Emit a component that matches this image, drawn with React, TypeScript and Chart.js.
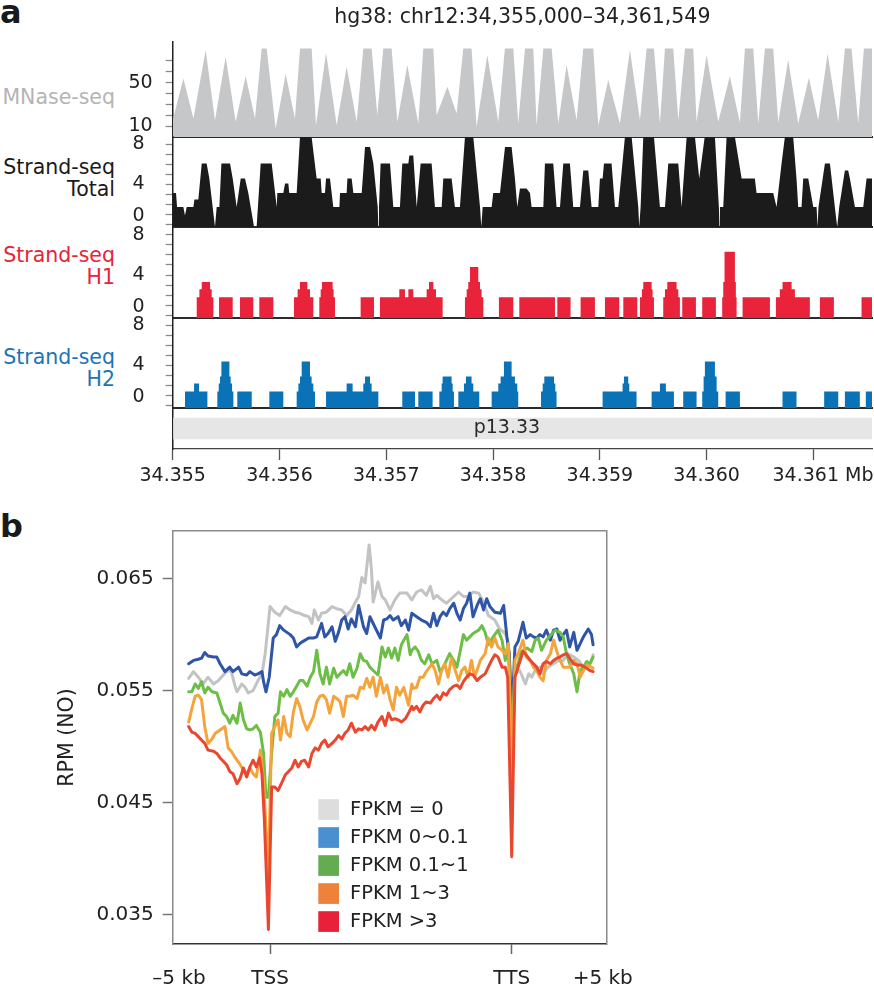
import React, { useEffect, useRef } from 'react';
import { Chart, registerables } from 'chart.js';

Chart.register(...registerables);
const FONT = '"DejaVu Sans", "Noto Sans", sans-serif';
Chart.defaults.font.family = FONT;
Chart.defaults.font.size = 19;
Chart.defaults.color = '#222222';

// ================= Panel a data =================
const REGION_TITLE = 'hg38: chr12:34,355,000–34,361,549';
const WINDOW_KB = 6.549; // window length in kb from 34,355,000
const X_TICK_POS = [0, 1, 2, 3, 4, 5, 6, 6.09];
const X_TICK_LABELS = ['34.355', '34.356', '34.357', '34.358', '34.359', '34.360', '', '34.361 Mb'];
const X_TICK_MARKED = [true, true, true, true, true, true, true, false];

const MNASE_TICKS = [10, 20, 30, 40, 50, 60, 70];
const MNASE_TICK_LABELS = ['10', '', '', '', '50', '', ''];
const STRAND_TICKS = [0, 1, 2, 3, 4, 5, 6, 7, 8];
const STRAND_LABEL_POS = [0.8, 4, 8];
const STRAND_LABELS = ['0', '4', '8'];

const TRACK_NAMES = [['MNase-seq'], ['Strand-seq', 'Total'], ['Strand-seq', 'H1'], ['Strand-seq', 'H2']];

const BAND_NAME = 'p13.33';
const BAND_START = 0;
const BAND_END = 6.549;
const BAND_LABEL_AT = 3.13;

// [kb from 34,355,000, coverage]
const MNASE: [number, number][] = [
  [0.000, 15.4], [0.100, 53.8], [0.194, 16.9], [0.309, 79.9], [0.396, 15.4], [0.496, 73.7], [0.590, 13.9],
  [0.683, 55.9], [0.771, 16.9], [0.833, 81.4], [0.880, 81.4], [0.964, 7.8], [1.058, 57.8], [1.145, 16.9],
  [1.192, 81.4], [1.301, 81.4], [1.342, 10.8], [1.436, 77.4], [1.536, 10.8], [1.629, 64.5], [1.723, 13.9],
  [1.785, 81.4], [1.863, 81.4], [1.916, 20.0], [1.972, 81.4], [2.050, 81.4], [2.104, 13.9], [2.197, 66.1],
  [2.300, 12.4], [2.347, 81.4], [2.441, 81.4], [2.472, 20.0], [2.572, 46.1], [2.659, 21.6], [2.721, 81.4],
  [2.799, 81.4], [2.846, 9.3], [2.946, 75.3], [3.049, 13.9], [3.111, 81.4], [3.190, 81.4], [3.236, 12.4],
  [3.299, 81.4], [3.377, 81.4], [3.408, 10.8], [3.471, 81.4], [3.549, 81.4], [3.611, 12.4], [3.689, 66.1],
  [3.783, 15.4], [3.845, 81.4], [3.939, 81.4], [3.986, 10.8], [4.079, 52.3], [4.188, 12.4], [4.282, 79.9],
  [4.376, 15.4], [4.438, 81.4], [4.507, 81.4], [4.563, 12.4], [4.610, 81.4], [4.688, 81.4], [4.735, 15.4],
  [4.797, 81.4], [4.875, 81.4], [4.906, 13.9], [5.000, 75.3], [5.109, 13.9], [5.218, 55.9], [5.312, 13.0],
  [5.359, 81.4], [5.437, 81.4], [5.484, 12.4], [5.546, 81.4], [5.624, 81.4], [5.671, 13.0], [5.764, 71.3],
  [5.858, 12.4], [5.958, 54.4], [6.045, 15.4], [6.133, 76.8], [6.233, 13.9], [6.295, 81.4], [6.357, 81.4],
  [6.420, 12.4], [6.473, 81.4], [6.549, 81.4],
];

const TOTAL: [number, number][] = [
  [0.000, 3.15], [0.031, 3.15], [0.041, 1.75], [0.100, 1.75], [0.115, 0.9], [0.131, 1.75], [0.194, 1.75],
  [0.203, 2.5], [0.240, 2.5], [0.272, 6.1], [0.318, 6.1], [0.343, 4.6], [0.396, -0.25], [0.412, 1.75],
  [0.437, 1.75], [0.456, 6.1], [0.537, 6.1], [0.562, 4.6], [0.599, 1.75], [0.637, 4.6], [0.677, 4.6],
  [0.708, 3.15], [0.762, -0.25], [0.786, -0.25], [0.824, 6.1], [0.927, 6.1], [0.974, 1.75], [0.980, 3.15],
  [1.036, 3.15], [1.052, 4.1], [1.083, 4.1], [1.092, 3.15], [1.161, 3.15], [1.192, 8.75], [1.301, 8.75],
  [1.348, 4.6], [1.386, 4.6], [1.395, 3.15], [1.426, 3.15], [1.436, 4.6], [1.473, 4.6], [1.504, 1.75],
  [1.561, 1.75], [1.567, 3.15], [1.629, 3.15], [1.636, 4.6], [1.676, 4.6], [1.692, 3.15], [1.770, 3.15],
  [1.801, 7.75], [1.848, 7.75], [1.879, 6.1], [1.920, 1.75], [1.926, -0.25], [1.932, 1.75], [1.947, 6.1],
  [2.035, 6.1], [2.066, 1.75], [2.128, 1.75], [2.150, 6.1], [2.207, 6.1], [2.216, 6.9], [2.253, 6.9],
  [2.285, 1.75], [2.322, 6.1], [2.425, 6.1], [2.456, 1.75], [2.519, 1.75], [2.534, 4.6], [2.612, 4.6],
  [2.643, 1.75], [2.690, 1.75], [2.737, 8.75], [2.815, 8.75], [2.878, 1.75], [2.890, -0.25], [2.903, 1.75],
  [2.987, 1.75], [3.002, 3.15], [3.065, 3.15], [3.112, 7.75], [3.174, 7.75], [3.205, 4.6], [3.227, 1.75],
  [3.252, 3.6], [3.314, 3.6], [3.346, 3.15], [3.361, 1.75], [3.471, 1.75], [3.486, 6.1], [3.564, 6.1],
  [3.595, 1.75], [3.627, 1.75], [3.658, 6.1], [3.720, 6.1], [3.751, 1.75], [3.814, 1.75], [3.845, 5.4],
  [3.892, 5.4], [3.923, 1.75], [3.986, 1.75], [4.001, 4.6], [4.026, 4.6], [4.039, 6.1], [4.110, 6.1],
  [4.142, 1.75], [4.173, 1.75], [4.235, 8.75], [4.298, 8.75], [4.360, 1.75], [4.369, -0.25], [4.382, 1.75],
  [4.407, 8.75], [4.507, 8.75], [4.563, 1.75], [4.610, 1.75], [4.641, 6.1], [4.735, 6.1], [4.766, 1.75],
  [4.813, 8.75], [4.891, 8.75], [4.931, 4.6], [4.982, 8.75], [5.078, 8.75], [5.115, 1.75], [5.120, -0.25],
  [5.125, 1.75], [5.156, 1.75], [5.187, 8.75], [5.265, 8.75], [5.328, 4.6], [5.452, 4.6], [5.468, 3.15],
  [5.624, 3.15], [5.655, 1.75], [5.702, 6.1], [5.733, 8.75], [5.811, 8.75], [5.842, 4.6], [5.858, 1.75],
  [5.889, 1.75], [5.905, 4.6], [5.952, 4.6], [5.999, 1.75], [6.030, 1.75], [6.039, -0.25], [6.048, 1.75],
  [6.108, 6.1], [6.155, 6.1], [6.201, 1.75], [6.223, -0.25], [6.242, 1.75], [6.295, 5.4], [6.326, 5.4],
  [6.342, 4.6], [6.389, 1.75], [6.467, 1.75], [6.498, 4.6], [6.549, 4.6],
];

// step signal: value holds from position until next position
const H1_SIGNAL: [number, number][] = [
  [0, -0.25], [0.225, 1.8], [0.250, 2.6], [0.272, 3.3], [0.350, 2.6], [0.365, 1.8], [0.381, -0.25],
  [0.434, 1.8], [0.562, -0.25], [0.630, 1.8], [0.755, -0.25], [0.811, 1.8], [0.943, -0.25], [1.136, 1.8],
  [1.170, 2.6], [1.192, 3.3], [1.261, 2.6], [1.286, 1.8], [1.317, -0.25], [1.373, 1.8], [1.386, 2.6],
  [1.398, 3.3], [1.498, 2.6], [1.507, 1.8], [1.520, -0.25], [1.760, 1.8], [1.885, -0.25], [1.941, 1.8],
  [2.122, 2.6], [2.175, 1.8], [2.207, 2.6], [2.253, 1.8], [2.378, 2.6], [2.400, 3.3], [2.441, 2.6],
  [2.466, 1.8], [2.528, -0.25], [2.737, 1.8], [2.753, 2.6], [2.768, 3.3], [2.784, 4.8], [2.862, 3.3],
  [2.878, 2.6], [2.893, 1.8], [2.909, -0.25], [3.055, 1.8], [3.190, -0.25], [3.246, 1.8], [3.580, -0.25],
  [3.602, 1.8], [3.726, -0.25], [3.820, 1.8], [3.954, -0.25], [4.048, 1.8], [4.182, -0.25], [4.220, 1.8],
  [4.351, -0.25], [4.376, 1.8], [4.394, 2.6], [4.407, 3.3], [4.485, 2.6], [4.494, 1.8], [4.507, -0.25],
  [4.594, 1.8], [4.610, 2.6], [4.632, 3.3], [4.719, 2.6], [4.735, 1.8], [4.750, -0.25], [4.772, 1.8],
  [4.900, -0.25], [4.959, 1.8], [5.087, -0.25], [5.146, 1.8], [5.156, 3.3], [5.168, 6.3], [5.265, 3.3],
  [5.274, 1.8], [5.281, -0.25], [5.337, 1.8], [5.593, -0.25], [5.649, 1.8], [5.686, 2.6], [5.711, 3.3],
  [5.796, 2.6], [5.827, 1.8], [5.967, -0.25], [6.061, 1.8], [6.192, -0.25], [6.451, 1.8], [6.549, 1.8],
];

const H2_SIGNAL: [number, number][] = [
  [0, -0.25], [0.115, 1.4], [0.200, 2.2], [0.247, 1.4], [0.325, -0.25], [0.418, 1.4], [0.431, 2.2],
  [0.443, 2.9], [0.456, 4.4], [0.531, 2.9], [0.543, 2.2], [0.556, 1.4], [0.568, -0.25], [0.605, 1.4],
  [0.740, -0.25], [0.905, 1.4], [1.036, -0.25], [1.161, 1.4], [1.177, 2.2], [1.192, 2.9], [1.208, 4.4],
  [1.286, 2.9], [1.301, 2.2], [1.317, 1.4], [1.333, -0.25], [1.436, 1.4], [1.629, 2.2], [1.685, 1.4],
  [1.785, 2.2], [1.801, 2.9], [1.848, 2.2], [1.863, 1.4], [1.926, -0.25], [2.150, 1.4], [2.269, -0.25],
  [2.300, 1.4], [2.434, -0.25], [2.497, 1.4], [2.519, 2.2], [2.528, 2.9], [2.612, 2.2], [2.622, 1.4],
  [2.634, -0.25], [2.675, 1.4], [2.728, 2.2], [2.746, 2.9], [2.799, 2.2], [2.815, 1.4], [2.871, -0.25],
  [2.987, 1.4], [3.049, 2.2], [3.071, 2.9], [3.102, 4.4], [3.174, 2.9], [3.205, 2.2], [3.227, 1.4],
  [3.236, -0.25], [3.449, 1.4], [3.465, 2.2], [3.480, 2.9], [3.571, 2.2], [3.583, 1.4], [3.595, -0.25],
  [4.026, 1.4], [4.213, 2.2], [4.226, 2.9], [4.266, 2.2], [4.276, 1.4], [4.344, -0.25], [4.485, 1.4],
  [4.563, 2.2], [4.619, 1.4], [4.694, -0.25], [4.781, 1.4], [4.906, -0.25], [4.959, 1.4], [4.972, 2.9],
  [4.984, 4.4], [5.078, 2.9], [5.094, 1.4], [5.109, -0.25], [5.178, 1.4], [5.312, -0.25], [5.711, 1.4],
  [5.842, -0.25], [6.101, 1.4], [6.233, -0.25], [6.295, 1.4], [6.435, -0.25], [6.491, 1.4], [6.549, 1.4],
];

// ================= Panel b data =================
// x: relative position (-100 = -5 kb, 0 = TSS, 300 = TTS, 400 = +5 kb); y: RPM (NO)
const B_X_TICK_POS = [-113, 0, 300, 413];
const B_X_TICK_LABELS = ['–5 kb', 'TSS', 'TTS', '+5 kb'];
const B_X_TICK_MARKED = [false, true, true, false];
const B_Y_TICKS = [0.035, 0.045, 0.055, 0.065];

const SERIES_LABELS = ['FPKM = 0', 'FPKM 0~0.1', 'FPKM 0.1~1', 'FPKM 1~3', 'FPKM >3'];
const LINE_COLORS = ['#c2c3c4', '#2f56a6', '#6cbe47', '#f4a43b', '#e9472f'];
const SWATCH_COLORS = ['#dddddd', '#4a8fcf', '#64ac52', '#ee823a', '#e8203a'];

const FPKM_0: [number, number][] = [
  [-101, 0.0561], [-95, 0.0567], [-89, 0.0562], [-83, 0.0556], [-77, 0.0562], [-70, 0.0556], [-64, 0.0559],
  [-58, 0.0564], [-52, 0.0568], [-48, 0.0567], [-43, 0.0553], [-41, 0.0549], [-35, 0.0556], [-31, 0.0553],
  [-27, 0.0548], [-21, 0.0550], [-15, 0.0559], [-10, 0.0565], [-6, 0.0583], [-3, 0.0604], [0, 0.0625],
  [6, 0.0620], [12, 0.0617], [19, 0.0625], [25, 0.0622], [31, 0.0620], [37, 0.0619], [43, 0.0617],
  [48, 0.0616], [52, 0.0610], [55, 0.0622], [60, 0.0613], [64, 0.0619], [70, 0.0620], [77, 0.0625],
  [83, 0.0623], [89, 0.0622], [95, 0.0617], [101, 0.0622], [106, 0.0629], [110, 0.0634], [114, 0.0651],
  [118, 0.0646], [123, 0.0680], [126, 0.0657], [128, 0.0629], [134, 0.0647], [139, 0.0634], [143, 0.0631],
  [149, 0.0622], [155, 0.0631], [161, 0.0637], [170, 0.0637], [176, 0.0631], [182, 0.0638], [188, 0.0640],
  [194, 0.0635], [199, 0.0643], [203, 0.0632], [207, 0.0635], [213, 0.0631], [219, 0.0628], [225, 0.0632],
  [234, 0.0638], [240, 0.0634], [246, 0.0634], [252, 0.0638], [259, 0.0637], [265, 0.0629], [271, 0.0617],
  [279, 0.0613], [285, 0.0605], [292, 0.0601], [295, 0.0595], [300, 0.0548], [304, 0.0565], [310, 0.0568],
  [317, 0.0556], [321, 0.0565], [325, 0.0562], [329, 0.0568], [335, 0.0571], [339, 0.0565], [345, 0.0571],
  [352, 0.0574], [358, 0.0577], [364, 0.0577], [370, 0.0583], [377, 0.0580], [383, 0.0577], [389, 0.0571],
  [395, 0.0571], [399, 0.0577], [401, 0.0582],
];

const FPKM_0_01: [number, number][] = [
  [-101, 0.0574], [-95, 0.0577], [-89, 0.0578], [-85, 0.0579], [-81, 0.0584], [-77, 0.0581], [-70, 0.0580],
  [-66, 0.0580], [-62, 0.0574], [-56, 0.0567], [-50, 0.0571], [-46, 0.0567], [-39, 0.0571], [-35, 0.0565],
  [-29, 0.0564], [-25, 0.0567], [-19, 0.0564], [-15, 0.0565], [-10, 0.0567], [-8, 0.0558], [-5, 0.0549],
  [-1, 0.0562], [4, 0.0597], [8, 0.0600], [12, 0.0608], [17, 0.0604], [21, 0.0602], [25, 0.0600],
  [29, 0.0597], [33, 0.0589], [37, 0.0592], [41, 0.0594], [48, 0.0597], [54, 0.0597], [58, 0.0598],
  [64, 0.0610], [68, 0.0598], [72, 0.0601], [77, 0.0607], [81, 0.0594], [85, 0.0602], [89, 0.0613],
  [93, 0.0616], [97, 0.0605], [101, 0.0614], [106, 0.0607], [110, 0.0626], [116, 0.0607], [120, 0.0601],
  [124, 0.0616], [130, 0.0607], [137, 0.0597], [141, 0.0613], [145, 0.0614], [149, 0.0617], [153, 0.0613],
  [159, 0.0616], [163, 0.0608], [168, 0.0613], [172, 0.0604], [176, 0.0619], [182, 0.0616], [188, 0.0613],
  [194, 0.0611], [199, 0.0607], [203, 0.0619], [207, 0.0608], [211, 0.0616], [215, 0.0620], [219, 0.0617],
  [223, 0.0623], [228, 0.0628], [232, 0.0619], [236, 0.0613], [240, 0.0623], [244, 0.0628], [248, 0.0637],
  [252, 0.0616], [257, 0.0626], [261, 0.0632], [265, 0.0622], [269, 0.0632], [273, 0.0625], [279, 0.0620],
  [286, 0.0619], [290, 0.0626], [294, 0.0598], [297, 0.0583], [300, 0.0525], [304, 0.0589], [308, 0.0594],
  [314, 0.0611], [318, 0.0597], [323, 0.0600], [327, 0.0598], [331, 0.0597], [335, 0.0600], [339, 0.0598],
  [343, 0.0604], [348, 0.0595], [352, 0.0604], [356, 0.0605], [360, 0.0595], [364, 0.0600], [368, 0.0604],
  [372, 0.0589], [377, 0.0602], [381, 0.0586], [385, 0.0592], [389, 0.0598], [395, 0.0605], [399, 0.0600],
  [401, 0.0591],
];

const FPKM_01_1: [number, number][] = [
  [-101, 0.0549], [-97, 0.0549], [-93, 0.0556], [-89, 0.0552], [-85, 0.0558], [-81, 0.0548], [-77, 0.0553],
  [-72, 0.0549], [-66, 0.0548], [-62, 0.0539], [-58, 0.0530], [-54, 0.0527], [-50, 0.0521], [-46, 0.0528],
  [-41, 0.0521], [-37, 0.0539], [-33, 0.0524], [-29, 0.0516], [-25, 0.0515], [-21, 0.0516], [-17, 0.0519],
  [-12, 0.0513], [-8, 0.0494], [-5, 0.0455], [-2, 0.0455], [2, 0.0494], [6, 0.0527], [10, 0.0530],
  [13, 0.0549], [17, 0.0545], [21, 0.0551], [25, 0.0545], [29, 0.0549], [33, 0.0554], [37, 0.0559],
  [41, 0.0559], [46, 0.0554], [50, 0.0562], [54, 0.0567], [58, 0.0586], [62, 0.0565], [66, 0.0556],
  [70, 0.0571], [74, 0.0556], [79, 0.0570], [83, 0.0562], [87, 0.0565], [91, 0.0568], [95, 0.0564],
  [99, 0.0574], [103, 0.0562], [108, 0.0570], [112, 0.0583], [116, 0.0577], [120, 0.0576], [124, 0.0571],
  [128, 0.0568], [134, 0.0564], [139, 0.0589], [143, 0.0580], [147, 0.0588], [151, 0.0579], [155, 0.0588],
  [159, 0.0577], [163, 0.0591], [170, 0.0600], [174, 0.0582], [176, 0.0586], [180, 0.0589], [184, 0.0585],
  [188, 0.0577], [192, 0.0574], [197, 0.0582], [201, 0.0574], [207, 0.0577], [211, 0.0567], [215, 0.0571],
  [219, 0.0577], [223, 0.0583], [228, 0.0577], [232, 0.0571], [236, 0.0585], [240, 0.0600], [244, 0.0595],
  [248, 0.0598], [252, 0.0601], [259, 0.0604], [263, 0.0608], [267, 0.0602], [271, 0.0591], [277, 0.0598],
  [283, 0.0604], [288, 0.0595], [292, 0.0577], [296, 0.0589], [300, 0.0500], [304, 0.0568], [308, 0.0574],
  [312, 0.0585], [319, 0.0588], [325, 0.0585], [329, 0.0595], [333, 0.0597], [337, 0.0586], [343, 0.0595],
  [350, 0.0601], [354, 0.0604], [360, 0.0602], [364, 0.0598], [368, 0.0583], [372, 0.0574], [377, 0.0565],
  [381, 0.0549], [385, 0.0568], [389, 0.0571], [393, 0.0576], [397, 0.0574], [401, 0.0580],
];

const FPKM_1_3: [number, number][] = [
  [-101, 0.0522], [-97, 0.0534], [-93, 0.0545], [-89, 0.0546], [-85, 0.0542], [-81, 0.0518], [-77, 0.0503],
  [-72, 0.0507], [-68, 0.0512], [-62, 0.0515], [-56, 0.0518], [-52, 0.0499], [-48, 0.0496], [-43, 0.0490],
  [-37, 0.0484], [-33, 0.0479], [-29, 0.0476], [-25, 0.0481], [-21, 0.0476], [-17, 0.0473], [-12, 0.0497],
  [-8, 0.0470], [-2, 0.0385], [2, 0.0512], [6, 0.0518], [10, 0.0524], [13, 0.0506], [17, 0.0527],
  [21, 0.0512], [25, 0.0509], [29, 0.0531], [33, 0.0543], [37, 0.0536], [41, 0.0524], [46, 0.0515],
  [50, 0.0521], [54, 0.0527], [58, 0.0540], [62, 0.0545], [66, 0.0546], [70, 0.0542], [74, 0.0530],
  [79, 0.0545], [83, 0.0543], [87, 0.0540], [91, 0.0527], [95, 0.0545], [99, 0.0545], [103, 0.0546],
  [108, 0.0543], [112, 0.0553], [116, 0.0552], [120, 0.0561], [124, 0.0553], [128, 0.0562], [132, 0.0545],
  [137, 0.0562], [141, 0.0548], [145, 0.0555], [149, 0.0542], [153, 0.0533], [157, 0.0553], [161, 0.0546],
  [166, 0.0553], [172, 0.0537], [176, 0.0556], [178, 0.0552], [182, 0.0553], [186, 0.0562], [190, 0.0562],
  [194, 0.0567], [201, 0.0574], [205, 0.0568], [209, 0.0556], [213, 0.0568], [217, 0.0574], [221, 0.0562],
  [225, 0.0579], [230, 0.0568], [234, 0.0559], [238, 0.0568], [242, 0.0571], [246, 0.0562], [250, 0.0577],
  [254, 0.0562], [261, 0.0577], [267, 0.0583], [271, 0.0597], [275, 0.0589], [279, 0.0597], [283, 0.0589],
  [288, 0.0586], [292, 0.0583], [296, 0.0592], [300, 0.0460], [304, 0.0577], [308, 0.0583], [314, 0.0595],
  [318, 0.0580], [323, 0.0577], [327, 0.0571], [331, 0.0568], [335, 0.0562], [339, 0.0559], [343, 0.0577],
  [348, 0.0583], [352, 0.0595], [356, 0.0585], [360, 0.0577], [364, 0.0571], [368, 0.0571], [372, 0.0571],
  [377, 0.0577], [381, 0.0574], [385, 0.0562], [389, 0.0568], [393, 0.0573], [399, 0.0571], [401, 0.0570],
];

const FPKM_GT3: [number, number][] = [
  [-101, 0.0518], [-97, 0.0513], [-93, 0.0512], [-89, 0.0509], [-85, 0.0506], [-81, 0.0503], [-77, 0.0497],
  [-70, 0.0496], [-66, 0.0494], [-62, 0.0490], [-58, 0.0487], [-54, 0.0484], [-50, 0.0478], [-46, 0.0476],
  [-41, 0.0467], [-37, 0.0472], [-33, 0.0481], [-29, 0.0473], [-25, 0.0482], [-21, 0.0488], [-17, 0.0482],
  [-13, 0.0490], [-10, 0.0476], [-7, 0.0435], [-2, 0.0337], [2, 0.0464], [6, 0.0464], [10, 0.0461],
  [14, 0.0467], [19, 0.0475], [23, 0.0478], [27, 0.0481], [31, 0.0488], [35, 0.0482], [39, 0.0487],
  [43, 0.0488], [48, 0.0482], [52, 0.0494], [56, 0.0499], [60, 0.0497], [64, 0.0503], [68, 0.0506],
  [72, 0.0500], [77, 0.0503], [81, 0.0506], [85, 0.0510], [89, 0.0507], [93, 0.0512], [97, 0.0515],
  [101, 0.0521], [106, 0.0513], [110, 0.0516], [114, 0.0515], [118, 0.0518], [122, 0.0515], [126, 0.0519],
  [130, 0.0515], [134, 0.0522], [139, 0.0527], [143, 0.0519], [147, 0.0530], [151, 0.0524], [155, 0.0525],
  [159, 0.0524], [163, 0.0522], [168, 0.0525], [172, 0.0530], [176, 0.0536], [178, 0.0533], [182, 0.0536],
  [186, 0.0531], [190, 0.0537], [194, 0.0540], [199, 0.0539], [203, 0.0543], [207, 0.0546], [211, 0.0542],
  [215, 0.0548], [219, 0.0546], [223, 0.0551], [228, 0.0554], [232, 0.0555], [236, 0.0552], [240, 0.0558],
  [244, 0.0562], [248, 0.0565], [252, 0.0564], [257, 0.0559], [261, 0.0562], [267, 0.0565], [271, 0.0571],
  [275, 0.0577], [279, 0.0582], [283, 0.0580], [288, 0.0571], [292, 0.0571], [295, 0.0562], [300, 0.0402],
  [304, 0.0562], [308, 0.0571], [314, 0.0585], [318, 0.0582], [323, 0.0577], [327, 0.0574], [331, 0.0571],
  [335, 0.0565], [339, 0.0574], [343, 0.0576], [348, 0.0574], [352, 0.0577], [356, 0.0579], [360, 0.0580],
  [364, 0.0582], [368, 0.0583], [372, 0.0579], [377, 0.0574], [381, 0.0573], [385, 0.0573], [391, 0.0571],
  [397, 0.0568], [401, 0.0567],
];

const SERIES = [FPKM_0, FPKM_0_01, FPKM_01_1, FPKM_1_3, FPKM_GT3];
const DRAW_ORDER = [4, 3, 2, 1, 0]; // red on top

// ================= helpers =================
const AXIS_LEFT = 172.7;
const COMMON = { animation: false, responsive: true, maintainAspectRatio: false, events: [] as any[] };
const NO_PLUGINS = { legend: { display: false }, tooltip: { enabled: false } };

const fixBox = (w?: number, h?: number) => (s: any) => {
  if (w !== undefined) s.width = w;
  if (h !== undefined) s.height = h;
  s.paddingLeft = 0; s.paddingRight = 0; s.paddingTop = 0; s.paddingBottom = 0;
};
const setTicks = (vals: number[]) => (s: any) => { s.ticks = vals.map((v) => ({ value: v })); };
const toXY = (pts: [number, number][]) => pts.map(([x, y]) => ({ x, y }));

const trackX = () => ({
  type: 'linear', min: 0, max: WINDOW_KB,
  ticks: { display: false }, grid: { display: false },
  border: { display: true, color: '#2b2b2b', width: 2 },
  afterFit: fixBox(undefined, 0),
});

const mnaseConfig = () => ({
  type: 'line',
  data: {
    datasets: [{
      data: toXY(MNASE), fill: 'start', backgroundColor: '#c6c7c9', borderWidth: 0, pointRadius: 0,
      tension: 0,
    }],
  },
  options: {
    ...COMMON,
    layout: { padding: { top: 0, right: 2, bottom: 3, left: 0 } },
    plugins: {
      ...NO_PLUGINS,
      title: {
        display: true, text: REGION_TITLE, fullSize: false, color: '#222',
        font: { size: 20.5, weight: 'normal' }, padding: { top: 5, bottom: 12.4 },
      },
    },
    scales: {
      x: trackX(),
      y: {
        type: 'linear', min: 0, max: 87.3, afterBuildTicks: setTicks(MNASE_TICKS),
        ticks: { autoSkip: false, callback: (_v: any, i: number) => MNASE_TICK_LABELS[i], font: { size: 19 }, color: '#222', padding: 13 },
        grid: { drawOnChartArea: false, drawTicks: true, tickLength: 7, tickColor: '#8a8a8a', tickWidth: 1.3 },
        border: { color: '#222', width: 1.5 },
        afterFit: fixBox(AXIS_LEFT),
      },
    },
  },
});

const strandConfig = (pts: [number, number][], color: string, stepped: boolean) => ({
  type: 'line',
  data: {
    datasets: [{
      data: toXY(pts), yAxisID: 'y', fill: 'start', backgroundColor: color, borderWidth: 0, pointRadius: 0,
      stepped: stepped ? 'before' : false, tension: 0,
    }],
  },
  options: {
    ...COMMON,
    layout: { padding: { top: 2, right: 2, bottom: 2, left: 0 } },
    plugins: NO_PLUGINS,
    scales: {
      x: trackX(),
      y: {
        type: 'linear', position: 'left', weight: 0, min: -0.25, max: 8.75, afterBuildTicks: setTicks(STRAND_TICKS),
        ticks: { display: false },
        grid: { drawOnChartArea: false, drawTicks: true, tickLength: 7, tickColor: '#8a8a8a', tickWidth: 1.3 },
        border: { color: '#222', width: 1.5 },
        afterFit: fixBox(7),
      },
      yl: {
        type: 'linear', position: 'left', weight: 1, min: -0.25, max: 8.75, afterBuildTicks: setTicks(STRAND_LABEL_POS),
        ticks: { autoSkip: false, callback: (_v: any, i: number) => STRAND_LABELS[i], font: { size: 19 }, color: '#222', padding: 13 },
        grid: { display: false }, border: { display: false },
        afterFit: fixBox(AXIS_LEFT - 7),
      },
    },
  },
});

const bandLabelPlugin = {
  id: 'bandLabel',
  afterDatasetsDraw(chart: any) {
    const { ctx, scales } = chart;
    const x = scales.x.getPixelForValue(BAND_LABEL_AT);
    const y = scales.y.getPixelForValue(0);
    ctx.save();
    ctx.font = `19px ${FONT}`;
    ctx.fillStyle = '#2a2a2a';
    ctx.textAlign = 'center';
    ctx.textBaseline = 'middle';
    ctx.fillText(BAND_NAME, x, y);
    ctx.restore();
  },
};

const ideoConfig = () => ({
  type: 'bar',
  data: {
    labels: [BAND_NAME],
    datasets: [{
      data: [[BAND_START, BAND_END]], backgroundColor: '#e6e6e6', borderWidth: 0,
      barPercentage: 0.52, categoryPercentage: 1,
    }],
  },
  options: {
    ...COMMON,
    indexAxis: 'y',
    layout: { padding: { top: 2, right: 2, bottom: 0, left: 0 } },
    plugins: NO_PLUGINS,
    scales: {
      x: {
        type: 'linear', position: 'bottom', min: 0, max: WINDOW_KB, afterBuildTicks: setTicks(X_TICK_POS),
        ticks: { autoSkip: false, maxRotation: 0, minRotation: 0, callback: (_v: any, i: number) => X_TICK_LABELS[i], font: { size: 19 }, color: '#222', padding: 5 },
        grid: {
          drawOnChartArea: false, drawTicks: true, tickLength: 11, tickWidth: 1.3,
          tickColor: (c: any) => (X_TICK_MARKED[c.index] ? '#555' : 'rgba(0,0,0,0)'),
        },
        border: { color: '#444', width: 1.3 },
        afterFit: fixBox(undefined, 51),
      },
      y: {
        type: 'category', ticks: { display: false }, grid: { display: false },
        border: { display: true, color: '#222', width: 1.5 },
        afterFit: fixBox(AXIS_LEFT),
      },
    },
  },
  plugins: [bandLabelPlugin],
});

const insetLegendPlugin = {
  id: 'insetLegend',
  afterDatasetsDraw(chart: any) {
    const { ctx, chartArea } = chart;
    ctx.save();
    ctx.font = `19.5px ${FONT}`;
    ctx.textBaseline = 'middle';
    ctx.textAlign = 'left';
    SERIES_LABELS.forEach((lab, i) => {
      const cy = chartArea.top + 278.6 + i * 28;
      ctx.fillStyle = SWATCH_COLORS[i];
      ctx.fillRect(chartArea.left + 145.6, cy - 10.4, 20.7, 20.7);
      ctx.fillStyle = '#222';
      ctx.fillText(lab, chartArea.left + 177.3, cy);
    });
    ctx.restore();
  },
};

const B_MIN_X = -120.8;
const B_MAX_X = 417.9;
const B_MIN_Y = 0.03241;
const B_MAX_Y = 0.06924;

const profileConfig = () => ({
  type: 'line',
  data: {
    datasets: SERIES.map((s, i) => ({
      label: SERIES_LABELS[i], data: toXY(s), borderColor: LINE_COLORS[i], backgroundColor: LINE_COLORS[i],
      borderWidth: 3, pointRadius: 0, fill: false, tension: 0, order: DRAW_ORDER[i],
      borderJoinStyle: 'round', borderCapStyle: 'round',
    })),
  },
  options: {
    ...COMMON,
    layout: { padding: { top: 31, right: 267.3, bottom: 0, left: 0 } },
    plugins: NO_PLUGINS,
    scales: {
      x: {
        type: 'linear', position: 'bottom', min: B_MIN_X, max: B_MAX_X, afterBuildTicks: setTicks(B_X_TICK_POS),
        ticks: { autoSkip: false, maxRotation: 0, minRotation: 0, callback: (_v: any, i: number) => B_X_TICK_LABELS[i], font: { size: 20 }, color: '#222', padding: 13 },
        grid: {
          drawOnChartArea: false, drawTicks: true, tickLength: 10, tickWidth: 1.5,
          tickColor: (c: any) => (B_X_TICK_MARKED[c.index] ? '#666' : 'rgba(0,0,0,0)'),
        },
        border: { color: '#333', width: 1.5 },
        afterFit: fixBox(undefined, 44),
      },
      xTop: {
        type: 'linear', position: 'top', min: B_MIN_X, max: B_MAX_X,
        ticks: { display: false }, grid: { display: false },
        border: { display: true, color: '#8a8a8a', width: 1.5 },
        afterFit: fixBox(undefined, 0),
      },
      y: {
        type: 'linear', position: 'left', min: B_MIN_Y, max: B_MAX_Y, afterBuildTicks: setTicks(B_Y_TICKS),
        ticks: { autoSkip: false, callback: (v: any) => Number(v).toFixed(3), font: { size: 20 }, color: '#222', padding: 9 },
        grid: { drawOnChartArea: false, drawTicks: true, tickLength: 10, tickColor: '#777', tickWidth: 1.5 },
        border: { color: '#8a8a8a', width: 1.5 },
        title: { display: true, text: 'RPM (NO)', color: '#222', font: { size: 20.5 }, padding: { top: 55.2, bottom: 0 } },
        afterFit: fixBox(AXIS_LEFT),
      },
      yRight: {
        type: 'linear', position: 'right', min: B_MIN_Y, max: B_MAX_Y,
        ticks: { display: false }, grid: { display: false },
        border: { display: true, color: '#8a8a8a', width: 1.5 },
        afterFit: fixBox(0),
      },
    },
  },
  plugins: [insetLegendPlugin],
});

// ================= components =================
function ChartBox({ top, height, build }: { top: number; height: number; build: () => any }) {
  const ref = useRef<HTMLCanvasElement | null>(null);
  useEffect(() => {
    const chart = new Chart(ref.current as HTMLCanvasElement, build());
    return () => chart.destroy();
  }, []);
  return (
    <div style={{ position: 'absolute', left: 0, top, width: 874, height }}>
      <canvas ref={ref} />
    </div>
  );
}

const TRACK_LABEL_TOPS = [87, 157, 245.4, 347];
const TRACK_LABEL_COLORS = ['#b4b4b4', '#1a1a1a', '#e8233a', '#1a75b8'];

export default function App() {
  return (
    <div style={{ position: 'absolute', left: 0, top: 0, width: 874, height: 988, overflow: 'hidden', background: '#ffffff', fontFamily: FONT }}>
      <div style={{ position: 'absolute', left: 0, top: -4.4, fontSize: 32, fontWeight: 700, lineHeight: '32px', color: '#1a1a1a' }}>a</div>
      <div style={{ position: 'absolute', left: 0, top: 509.6, fontSize: 32, fontWeight: 700, lineHeight: '32px', color: '#1a1a1a' }}>b</div>
      {TRACK_NAMES.map((lines, i) => (
        <div key={i} style={{ position: 'absolute', left: 0, top: TRACK_LABEL_TOPS[i], width: 115, textAlign: 'right', fontSize: 20.5, lineHeight: '21.7px', color: TRACK_LABEL_COLORS[i], whiteSpace: 'nowrap' }}>
          {lines.map((t, j) => <div key={j}>{t}</div>)}
        </div>
      ))}
      <ChartBox top={0} height={140} build={mnaseConfig} />
      <ChartBox top={135} height={94} build={() => strandConfig(TOTAL, '#1b1b1b', false)} />
      <ChartBox top={225} height={95} build={() => strandConfig(H1_SIGNAL, '#e8233a', true)} />
      <ChartBox top={316} height={94} build={() => strandConfig(H2_SIGNAL, '#0a73b8', true)} />
      <ChartBox top={406} height={94} build={ideoConfig} />
      <ChartBox top={500} height={488} build={profileConfig} />
    </div>
  );
}
